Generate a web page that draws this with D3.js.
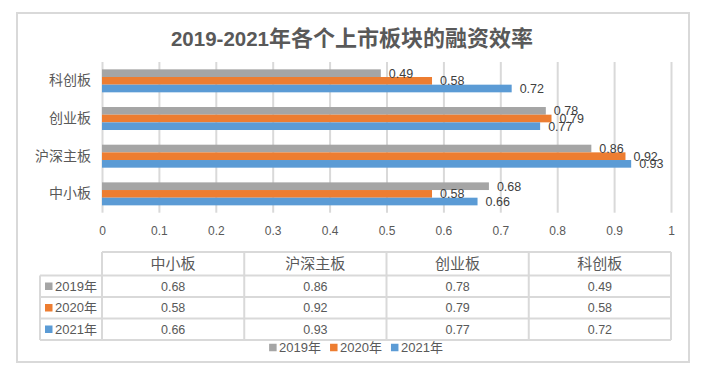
<!DOCTYPE html>
<html>
<head>
<meta charset="utf-8">
<script src="https://cdn.jsdelivr.net/npm/d3@7"></script>
<style>
  body { margin: 0; background: #fff; }
  svg text { font-family: "Liberation Sans", "Noto Sans CJK SC", sans-serif; fill: #595959; }
</style>
</head>
<body>
<div id="chart"></div>
<script>
// Data
const categories = ["中小板", "沪深主板", "创业板", "科创板"];
const seriesNames = ["2019年", "2020年", "2021年"];
const values2019 = [0.68, 0.86, 0.78, 0.49];
const values2020 = [0.58, 0.92, 0.79, 0.58];
const values2021 = [0.66, 0.93, 0.77, 0.72];
const xTicks = [0, 0.1, 0.2, 0.3, 0.4, 0.5, 0.6, 0.7, 0.8, 0.9, 1];
const colors = ["#A5A5A5", "#ED7D31", "#5B9BD5"];

const seriesValues = [values2019, values2020, values2021];
const width = 719, height = 370;
const gridColor = "#d9d9d9";

const svg = d3.select("#chart").append("svg")
    .attr("width", width)
    .attr("height", height);

// outer frame
svg.append("rect")
    .attr("x", 17).attr("y", 13)
    .attr("width", 672).attr("height", 349)
    .attr("fill", "#fff")
    .attr("stroke", gridColor)
    .attr("stroke-width", 2);

// title
const title = svg.append("text")
    .attr("x", 352).attr("y", 46)
    .attr("text-anchor", "middle");
title.append("tspan")
    .style("font-size", "20.5px").style("font-weight", "bold")
    .text("2019-2021");
title.append("tspan")
    .style("font-size", "22px").style("font-weight", "bold")
    .style("font-family", "'Noto Sans CJK SC'")
    .text("年各个上市板块的融资效率");

// plot area
const plot = { left: 102, right: 671, top: 62, bottom: 212.7 };

const x = d3.scaleLinear()
    .domain([0, 1])
    .range([plot.left, plot.right]);

// Excel draws the first category at the bottom
const y = d3.scaleBand()
    .domain(categories.slice().reverse())
    .range([plot.top, plot.bottom])
    .paddingInner(0.39)
    .paddingOuter(0.195);

const ySeries = d3.scaleBand()
    .domain(seriesNames)
    .range([0, y.bandwidth()])
    .padding(0);

// gridlines + tick labels
const xAxis = svg.append("g")
    .attr("transform", `translate(0,${plot.bottom})`)
    .call(d3.axisBottom(x)
        .tickValues(xTicks)
        .tickFormat(d => d3.format("~g")(d))
        .tickSize(-(plot.bottom - plot.top))
        .tickPadding(14));
xAxis.select(".domain").remove();
xAxis.selectAll(".tick line")
    .attr("stroke", gridColor)
    .attr("stroke-width", 2);
xAxis.selectAll(".tick text")
    .style("font-size", "12px");

// category labels
const yAxis = svg.append("g")
    .attr("transform", `translate(${plot.left},0)`)
    .call(d3.axisLeft(y).tickSize(0).tickPadding(11));
yAxis.select(".domain").remove();
yAxis.selectAll(".tick text")
    .style("font-size", "14px")
    .style("font-family", "'Noto Sans CJK SC'");

// bars
const rows = [];
categories.forEach((c, i) => {
    seriesNames.forEach((s, j) => {
        rows.push({ cat: c, series: s, idx: j, value: seriesValues[j][i] });
    });
});

svg.append("g")
    .selectAll("rect")
    .data(rows)
    .join("rect")
    .attr("x", x(0))
    .attr("y", d => y(d.cat) + ySeries(d.series))
    .attr("width", d => x(d.value) - x(0))
    .attr("height", ySeries.bandwidth())
    .attr("fill", d => colors[d.idx]);

// data labels (they overlap in the original too)
svg.append("g")
    .selectAll("text")
    .data(rows)
    .join("text")
    .attr("x", d => x(d.value) + 8)
    .attr("y", d => y(d.cat) + ySeries(d.series) + ySeries.bandwidth() / 2)
    .attr("dy", "0.36em")
    .style("font-size", "12.5px")
    .style("fill", "#404040")
    .text(d => d.value);

// data table
const table = { left: 40, top: 252, headerH: 23.5, rowH: 21.5 };
const col = d3.scaleBand()
    .domain(categories)
    .range([plot.left, plot.right])
    .padding(0);
const rowY = d3.scaleBand()
    .domain(seriesNames)
    .range([table.top + table.headerH, table.top + table.headerH + table.rowH * 3]);
const tableBottom = rowY.range()[1];

const tg = svg.append("g").attr("stroke", gridColor).attr("stroke-width", 2);
// header top line
tg.append("line")
    .attr("x1", plot.left).attr("x2", plot.right)
    .attr("y1", table.top).attr("y2", table.top);
// row lines
seriesNames.forEach(s => {
    tg.append("line")
        .attr("x1", table.left).attr("x2", plot.right)
        .attr("y1", rowY(s)).attr("y2", rowY(s));
});
tg.append("line")
    .attr("x1", table.left).attr("x2", plot.right)
    .attr("y1", tableBottom).attr("y2", tableBottom);
// verticals
tg.append("line")
    .attr("x1", table.left).attr("x2", table.left)
    .attr("y1", rowY(seriesNames[0])).attr("y2", tableBottom);
categories.forEach(c => {
    tg.append("line")
        .attr("x1", col(c)).attr("x2", col(c))
        .attr("y1", table.top).attr("y2", tableBottom);
});
tg.append("line")
    .attr("x1", plot.right).attr("x2", plot.right)
    .attr("y1", table.top).attr("y2", tableBottom);

// header text
svg.append("g")
    .selectAll("text")
    .data(categories)
    .join("text")
    .attr("x", d => col(d) + col.bandwidth() / 2)
    .attr("y", table.top + table.headerH / 2)
    .attr("dy", "0.36em")
    .attr("text-anchor", "middle")
    .style("font-size", "15px")
    .style("font-family", "'Noto Sans CJK SC'")
    .text(d => d);

// row headers with legend keys
seriesNames.forEach((s, j) => {
    const cy = rowY(s) + rowY.bandwidth() / 2;
    svg.append("rect")
        .attr("x", 45).attr("y", cy - 3.75)
        .attr("width", 7.5).attr("height", 7.5)
        .attr("fill", colors[j]);
    svg.append("text")
        .attr("x", 55).attr("y", cy)
        .attr("dy", "0.36em")
        .style("font-size", "13px")
        .text(s);
});

// cell values
svg.append("g")
    .selectAll("text")
    .data(rows)
    .join("text")
    .attr("x", d => col(d.cat) + col.bandwidth() / 2)
    .attr("y", d => rowY(d.series) + rowY.bandwidth() / 2)
    .attr("dy", "0.36em")
    .attr("text-anchor", "middle")
    .style("font-size", "12.5px")
    .text(d => d.value.toFixed(2));

// bottom legend
const legend = svg.append("g");
let lx = 0;
seriesNames.forEach((s, j) => {
    const item = legend.append("g").attr("transform", `translate(${lx},0)`);
    item.append("rect")
        .attr("x", 0).attr("y", -3.75)
        .attr("width", 7.5).attr("height", 7.5)
        .attr("fill", colors[j]);
    const t = item.append("text")
        .attr("x", 10).attr("dy", "0.36em")
        .style("font-size", "13px")
        .text(s);
    lx += 10 + t.node().getComputedTextLength() + 9;
});
legend.attr("transform", `translate(${356 - (lx - 9) / 2},347.5)`);
</script>
</body>
</html>
